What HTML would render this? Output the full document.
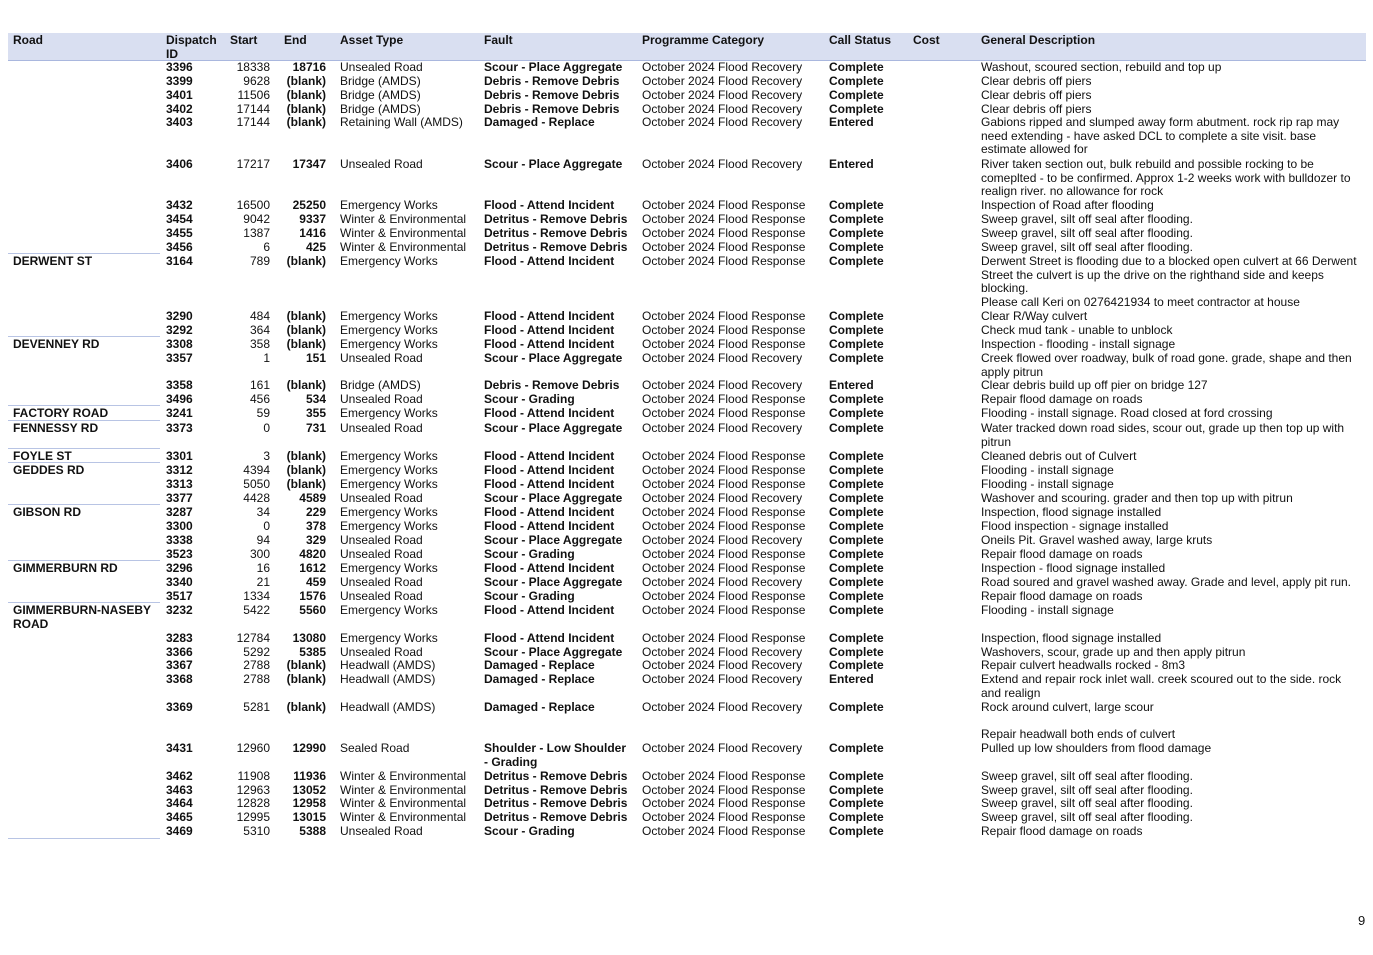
<!DOCTYPE html>
<html><head><meta charset="utf-8"><style>
body{margin:0;width:1373px;height:955px;background:#fff;position:relative;font-family:"Liberation Sans",Arial,sans-serif;font-size:12px;color:#111;overflow:hidden}
.h{position:absolute;left:8px;top:33px;width:1358px;height:27px;background:#d9dff1;border-bottom:1px solid #a9b7de}
.h span{position:absolute;top:1px;font-weight:bold;line-height:13.5px}
.r{position:absolute;left:0;width:1373px;height:14px;line-height:13.7px;margin-top:1px}
.r span{position:absolute;top:0;white-space:nowrap}
.b{font-weight:bold}
.rd{left:13px;font-weight:bold}.id{left:166px;font-weight:bold}.st{right:1103px;text-align:right}.en{right:1047px;text-align:right;font-weight:bold}
.as{left:340px}.fa{left:484px;font-weight:bold}.pc{left:642px}.cs{left:829px;font-weight:bold}.de{left:981px}
.ln{position:absolute;left:8px;width:152px;height:1px;background:#b8c4e4}
</style></head><body>
<div class="h"><span style="left:5px">Road</span><span style="left:158px">Dispatch<br>ID</span><span style="left:222px">Start</span><span style="left:276px">End</span><span style="left:332px">Asset Type</span><span style="left:476px">Fault</span><span style="left:634px">Programme Category</span><span style="left:821px">Call Status</span><span style="left:905px">Cost</span><span style="left:973px">General Description</span></div>

<div class="r" style="top:60px"><span class="id">3396</span><span class="st">18338</span><span class="en">18716</span><span class="as">Unsealed Road</span><span class="fa">Scour - Place Aggregate</span><span class="pc">October 2024 Flood Recovery</span><span class="cs">Complete</span><span class="de">Washout, scoured section, rebuild and top up</span></div>
<div class="r" style="top:74px"><span class="id">3399</span><span class="st">9628</span><span class="en">(blank)</span><span class="as">Bridge (AMDS)</span><span class="fa">Debris - Remove Debris</span><span class="pc">October 2024 Flood Recovery</span><span class="cs">Complete</span><span class="de">Clear debris off piers</span></div>
<div class="r" style="top:88px"><span class="id">3401</span><span class="st">11506</span><span class="en">(blank)</span><span class="as">Bridge (AMDS)</span><span class="fa">Debris - Remove Debris</span><span class="pc">October 2024 Flood Recovery</span><span class="cs">Complete</span><span class="de">Clear debris off piers</span></div>
<div class="r" style="top:102px"><span class="id">3402</span><span class="st">17144</span><span class="en">(blank)</span><span class="as">Bridge (AMDS)</span><span class="fa">Debris - Remove Debris</span><span class="pc">October 2024 Flood Recovery</span><span class="cs">Complete</span><span class="de">Clear debris off piers</span></div>
<div class="r" style="top:115px"><span class="id">3403</span><span class="st">17144</span><span class="en">(blank)</span><span class="as">Retaining Wall (AMDS)</span><span class="fa">Damaged - Replace</span><span class="pc">October 2024 Flood Recovery</span><span class="cs">Entered</span><span class="de">Gabions ripped and slumped away form abutment. rock rip rap may<br>need extending - have asked DCL to complete a site visit. base<br>estimate allowed for</span></div>
<div class="r" style="top:157px"><span class="id">3406</span><span class="st">17217</span><span class="en">17347</span><span class="as">Unsealed Road</span><span class="fa">Scour - Place Aggregate</span><span class="pc">October 2024 Flood Recovery</span><span class="cs">Entered</span><span class="de">River taken section out, bulk rebuild and possible rocking to be<br>comeplted - to be confirmed. Approx 1-2 weeks work with bulldozer to<br>realign river. no allowance for rock</span></div>
<div class="r" style="top:198px"><span class="id">3432</span><span class="st">16500</span><span class="en">25250</span><span class="as">Emergency Works</span><span class="fa">Flood - Attend Incident</span><span class="pc">October 2024 Flood Response</span><span class="cs">Complete</span><span class="de">Inspection of Road after flooding</span></div>
<div class="r" style="top:212px"><span class="id">3454</span><span class="st">9042</span><span class="en">9337</span><span class="as">Winter &amp; Environmental</span><span class="fa">Detritus - Remove Debris</span><span class="pc">October 2024 Flood Response</span><span class="cs">Complete</span><span class="de">Sweep gravel, silt off seal after flooding.</span></div>
<div class="r" style="top:226px"><span class="id">3455</span><span class="st">1387</span><span class="en">1416</span><span class="as">Winter &amp; Environmental</span><span class="fa">Detritus - Remove Debris</span><span class="pc">October 2024 Flood Response</span><span class="cs">Complete</span><span class="de">Sweep gravel, silt off seal after flooding.</span></div>
<div class="r" style="top:240px"><span class="id">3456</span><span class="st">6</span><span class="en">425</span><span class="as">Winter &amp; Environmental</span><span class="fa">Detritus - Remove Debris</span><span class="pc">October 2024 Flood Response</span><span class="cs">Complete</span><span class="de">Sweep gravel, silt off seal after flooding.</span></div>
<div class="ln" style="top:253px"></div>
<div class="r" style="top:254px"><span class="rd">DERWENT ST</span><span class="id">3164</span><span class="st">789</span><span class="en">(blank)</span><span class="as">Emergency Works</span><span class="fa">Flood - Attend Incident</span><span class="pc">October 2024 Flood Response</span><span class="cs">Complete</span><span class="de">Derwent Street is flooding due to a blocked open culvert at 66 Derwent<br>Street the culvert is up the drive on the righthand side and keeps<br>blocking.<br>Please call Keri on 0276421934 to meet contractor at house</span></div>
<div class="r" style="top:309px"><span class="id">3290</span><span class="st">484</span><span class="en">(blank)</span><span class="as">Emergency Works</span><span class="fa">Flood - Attend Incident</span><span class="pc">October 2024 Flood Response</span><span class="cs">Complete</span><span class="de">Clear R/Way culvert</span></div>
<div class="r" style="top:323px"><span class="id">3292</span><span class="st">364</span><span class="en">(blank)</span><span class="as">Emergency Works</span><span class="fa">Flood - Attend Incident</span><span class="pc">October 2024 Flood Response</span><span class="cs">Complete</span><span class="de">Check mud tank - unable to unblock</span></div>
<div class="ln" style="top:336px"></div>
<div class="r" style="top:337px"><span class="rd">DEVENNEY RD</span><span class="id">3308</span><span class="st">358</span><span class="en">(blank)</span><span class="as">Emergency Works</span><span class="fa">Flood - Attend Incident</span><span class="pc">October 2024 Flood Response</span><span class="cs">Complete</span><span class="de">Inspection - flooding - install signage</span></div>
<div class="r" style="top:351px"><span class="id">3357</span><span class="st">1</span><span class="en">151</span><span class="as">Unsealed Road</span><span class="fa">Scour - Place Aggregate</span><span class="pc">October 2024 Flood Recovery</span><span class="cs">Complete</span><span class="de">Creek flowed over roadway, bulk of road gone. grade, shape and then<br>apply pitrun</span></div>
<div class="r" style="top:378px"><span class="id">3358</span><span class="st">161</span><span class="en">(blank)</span><span class="as">Bridge (AMDS)</span><span class="fa">Debris - Remove Debris</span><span class="pc">October 2024 Flood Recovery</span><span class="cs">Entered</span><span class="de">Clear debris build up off pier on bridge 127</span></div>
<div class="r" style="top:392px"><span class="id">3496</span><span class="st">456</span><span class="en">534</span><span class="as">Unsealed Road</span><span class="fa">Scour - Grading</span><span class="pc">October 2024 Flood Response</span><span class="cs">Complete</span><span class="de">Repair flood damage on roads</span></div>
<div class="ln" style="top:405px"></div>
<div class="r" style="top:406px"><span class="rd">FACTORY ROAD</span><span class="id">3241</span><span class="st">59</span><span class="en">355</span><span class="as">Emergency Works</span><span class="fa">Flood - Attend Incident</span><span class="pc">October 2024 Flood Response</span><span class="cs">Complete</span><span class="de">Flooding - install signage. Road closed at ford crossing</span></div>
<div class="ln" style="top:420px"></div>
<div class="r" style="top:421px"><span class="rd">FENNESSY RD</span><span class="id">3373</span><span class="st">0</span><span class="en">731</span><span class="as">Unsealed Road</span><span class="fa">Scour - Place Aggregate</span><span class="pc">October 2024 Flood Recovery</span><span class="cs">Complete</span><span class="de">Water tracked down road sides, scour out, grade up then top up with<br>pitrun</span></div>
<div class="ln" style="top:448px"></div>
<div class="r" style="top:449px"><span class="rd">FOYLE ST</span><span class="id">3301</span><span class="st">3</span><span class="en">(blank)</span><span class="as">Emergency Works</span><span class="fa">Flood - Attend Incident</span><span class="pc">October 2024 Flood Response</span><span class="cs">Complete</span><span class="de">Cleaned debris out of Culvert</span></div>
<div class="ln" style="top:462px"></div>
<div class="r" style="top:463px"><span class="rd">GEDDES RD</span><span class="id">3312</span><span class="st">4394</span><span class="en">(blank)</span><span class="as">Emergency Works</span><span class="fa">Flood - Attend Incident</span><span class="pc">October 2024 Flood Response</span><span class="cs">Complete</span><span class="de">Flooding - install signage</span></div>
<div class="r" style="top:477px"><span class="id">3313</span><span class="st">5050</span><span class="en">(blank)</span><span class="as">Emergency Works</span><span class="fa">Flood - Attend Incident</span><span class="pc">October 2024 Flood Response</span><span class="cs">Complete</span><span class="de">Flooding - install signage</span></div>
<div class="r" style="top:491px"><span class="id">3377</span><span class="st">4428</span><span class="en">4589</span><span class="as">Unsealed Road</span><span class="fa">Scour - Place Aggregate</span><span class="pc">October 2024 Flood Recovery</span><span class="cs">Complete</span><span class="de">Washover and scouring. grader and then top up with pitrun</span></div>
<div class="ln" style="top:504px"></div>
<div class="r" style="top:505px"><span class="rd">GIBSON RD</span><span class="id">3287</span><span class="st">34</span><span class="en">229</span><span class="as">Emergency Works</span><span class="fa">Flood - Attend Incident</span><span class="pc">October 2024 Flood Response</span><span class="cs">Complete</span><span class="de">Inspection, flood signage installed</span></div>
<div class="r" style="top:519px"><span class="id">3300</span><span class="st">0</span><span class="en">378</span><span class="as">Emergency Works</span><span class="fa">Flood - Attend Incident</span><span class="pc">October 2024 Flood Response</span><span class="cs">Complete</span><span class="de">Flood inspection - signage installed</span></div>
<div class="r" style="top:533px"><span class="id">3338</span><span class="st">94</span><span class="en">329</span><span class="as">Unsealed Road</span><span class="fa">Scour - Place Aggregate</span><span class="pc">October 2024 Flood Recovery</span><span class="cs">Complete</span><span class="de">Oneils Pit. Gravel washed away, large kruts</span></div>
<div class="r" style="top:547px"><span class="id">3523</span><span class="st">300</span><span class="en">4820</span><span class="as">Unsealed Road</span><span class="fa">Scour - Grading</span><span class="pc">October 2024 Flood Response</span><span class="cs">Complete</span><span class="de">Repair flood damage on roads</span></div>
<div class="ln" style="top:560px"></div>
<div class="r" style="top:561px"><span class="rd">GIMMERBURN RD</span><span class="id">3296</span><span class="st">16</span><span class="en">1612</span><span class="as">Emergency Works</span><span class="fa">Flood - Attend Incident</span><span class="pc">October 2024 Flood Response</span><span class="cs">Complete</span><span class="de">Inspection - flood signage installed</span></div>
<div class="r" style="top:575px"><span class="id">3340</span><span class="st">21</span><span class="en">459</span><span class="as">Unsealed Road</span><span class="fa">Scour - Place Aggregate</span><span class="pc">October 2024 Flood Recovery</span><span class="cs">Complete</span><span class="de">Road soured and gravel washed away. Grade and level, apply pit run.</span></div>
<div class="r" style="top:589px"><span class="id">3517</span><span class="st">1334</span><span class="en">1576</span><span class="as">Unsealed Road</span><span class="fa">Scour - Grading</span><span class="pc">October 2024 Flood Response</span><span class="cs">Complete</span><span class="de">Repair flood damage on roads</span></div>
<div class="ln" style="top:602px"></div>
<div class="r" style="top:603px"><span class="rd">GIMMERBURN-NASEBY<br>ROAD</span><span class="id">3232</span><span class="st">5422</span><span class="en">5560</span><span class="as">Emergency Works</span><span class="fa">Flood - Attend Incident</span><span class="pc">October 2024 Flood Response</span><span class="cs">Complete</span><span class="de">Flooding - install signage</span></div>
<div class="r" style="top:631px"><span class="id">3283</span><span class="st">12784</span><span class="en">13080</span><span class="as">Emergency Works</span><span class="fa">Flood - Attend Incident</span><span class="pc">October 2024 Flood Response</span><span class="cs">Complete</span><span class="de">Inspection, flood signage installed</span></div>
<div class="r" style="top:645px"><span class="id">3366</span><span class="st">5292</span><span class="en">5385</span><span class="as">Unsealed Road</span><span class="fa">Scour - Place Aggregate</span><span class="pc">October 2024 Flood Recovery</span><span class="cs">Complete</span><span class="de">Washovers, scour, grade up and then apply pitrun</span></div>
<div class="r" style="top:658px"><span class="id">3367</span><span class="st">2788</span><span class="en">(blank)</span><span class="as">Headwall (AMDS)</span><span class="fa">Damaged - Replace</span><span class="pc">October 2024 Flood Recovery</span><span class="cs">Complete</span><span class="de">Repair culvert headwalls rocked - 8m3</span></div>
<div class="r" style="top:672px"><span class="id">3368</span><span class="st">2788</span><span class="en">(blank)</span><span class="as">Headwall (AMDS)</span><span class="fa">Damaged - Replace</span><span class="pc">October 2024 Flood Recovery</span><span class="cs">Entered</span><span class="de">Extend and repair rock inlet wall. creek scoured out to the side. rock<br>and realign</span></div>
<div class="r" style="top:700px"><span class="id">3369</span><span class="st">5281</span><span class="en">(blank)</span><span class="as">Headwall (AMDS)</span><span class="fa">Damaged - Replace</span><span class="pc">October 2024 Flood Recovery</span><span class="cs">Complete</span><span class="de">Rock around culvert, large scour<br>&nbsp;<br>Repair headwall both ends of culvert</span></div>
<div class="r" style="top:741px"><span class="id">3431</span><span class="st">12960</span><span class="en">12990</span><span class="as">Sealed Road</span><span class="fa">Shoulder - Low Shoulder<br>- Grading</span><span class="pc">October 2024 Flood Recovery</span><span class="cs">Complete</span><span class="de">Pulled up low shoulders from flood damage</span></div>
<div class="r" style="top:769px"><span class="id">3462</span><span class="st">11908</span><span class="en">11936</span><span class="as">Winter &amp; Environmental</span><span class="fa">Detritus - Remove Debris</span><span class="pc">October 2024 Flood Response</span><span class="cs">Complete</span><span class="de">Sweep gravel, silt off seal after flooding.</span></div>
<div class="r" style="top:783px"><span class="id">3463</span><span class="st">12963</span><span class="en">13052</span><span class="as">Winter &amp; Environmental</span><span class="fa">Detritus - Remove Debris</span><span class="pc">October 2024 Flood Response</span><span class="cs">Complete</span><span class="de">Sweep gravel, silt off seal after flooding.</span></div>
<div class="r" style="top:796px"><span class="id">3464</span><span class="st">12828</span><span class="en">12958</span><span class="as">Winter &amp; Environmental</span><span class="fa">Detritus - Remove Debris</span><span class="pc">October 2024 Flood Response</span><span class="cs">Complete</span><span class="de">Sweep gravel, silt off seal after flooding.</span></div>
<div class="r" style="top:810px"><span class="id">3465</span><span class="st">12995</span><span class="en">13015</span><span class="as">Winter &amp; Environmental</span><span class="fa">Detritus - Remove Debris</span><span class="pc">October 2024 Flood Response</span><span class="cs">Complete</span><span class="de">Sweep gravel, silt off seal after flooding.</span></div>
<div class="r" style="top:824px"><span class="id">3469</span><span class="st">5310</span><span class="en">5388</span><span class="as">Unsealed Road</span><span class="fa">Scour - Grading</span><span class="pc">October 2024 Flood Response</span><span class="cs">Complete</span><span class="de">Repair flood damage on roads</span></div>
<div class="ln" style="top:838px"></div>
<div style="position:absolute;left:1358px;top:913px;font-size:13px">9</div>
</body></html>
